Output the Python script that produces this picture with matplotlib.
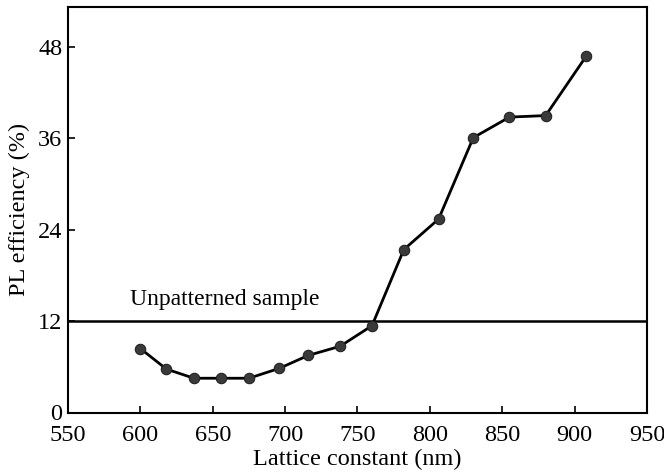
import matplotlib
matplotlib.use("Agg")
import matplotlib.pyplot as plt

lattice = [600, 618, 637, 656, 675, 696, 716, 738, 760, 782, 806, 830, 855, 880, 908]
efficiency = [8.4, 5.7, 4.5, 4.5, 4.5, 5.8, 7.5, 8.7, 11.4, 21.4, 25.4, 36.1, 38.8, 39.0, 46.8]
unpatterned = 12.0
xticks = [550, 600, 650, 700, 750, 800, 850, 900, 950]
yticks = [0, 12, 24, 36, 48]

plt.rcParams['font.family'] = ['Liberation Serif', 'DejaVu Serif']

fig = plt.figure(figsize=(6.64, 4.72), dpi=100)
ax = fig.add_axes([68/664, 1 - 412.5/472, (647 - 68)/664, (412.5 - 6.7)/472])

ax.axhline(unpatterned, color='black', lw=1.8)
ax.plot(lattice, efficiency, color='black', lw=2.0, marker='o', ms=7.5,
        markerfacecolor='#3a3a3a', markeredgecolor='#222222', markeredgewidth=0.8)

ax.text(593, 14.9, 'Unpatterned sample', fontsize=17, va='center', ha='left')

ax.set_xlim(550, 950)
ax.set_ylim(0, 53.3)
ax.set_xticks(xticks)
ax.set_yticks(yticks)
ax.tick_params(direction='in', length=5, width=1.2, labelsize=17.5)
ax.tick_params(axis='x', pad=9)
ax.tick_params(axis='y', pad=4)
for s in ax.spines.values():
    s.set_linewidth(1.5)

ax.set_xlabel('Lattice constant (nm)', fontsize=17.5, labelpad=2)
ax.set_ylabel('PL efficiency (%)', fontsize=17.5, labelpad=6)

fig.savefig('out.png', dpi=100)
